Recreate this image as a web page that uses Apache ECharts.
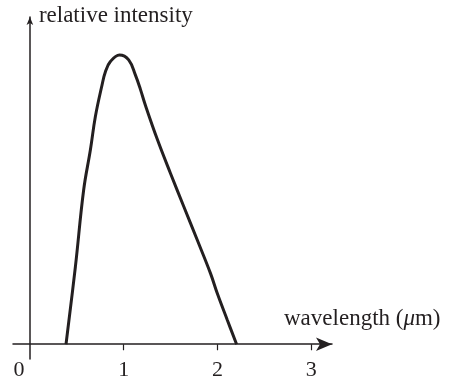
<!DOCTYPE html>
<html>
<head>
<meta charset="utf-8">
<script src="https://cdn.jsdelivr.net/npm/echarts@6/dist/echarts.min.js"></script>
<style>
  html, body { margin: 0; padding: 0; background: #fff; }
  #chart { width: 450px; height: 377px; }
</style>
</head>
<body>
<div id="chart"></div>
<script>
// wavelength (um) and relative intensity
const wavelength = [0.385, 0.485, 0.573, 0.645, 0.698, 0.769, 0.805, 0.858, 0.955,
  1.053, 1.125, 1.179, 1.232, 1.356, 1.498, 1.64, 1.783, 1.925, 1.997, 2.104, 2.203];
const intensity = [0, 0.268, 0.533, 0.672, 0.787, 0.896, 0.942, 0.977, 1.0,
  0.983, 0.93, 0.88, 0.825, 0.71, 0.591, 0.476, 0.361, 0.245, 0.176, 0.084, 0];
const xTicks = [1, 2, 3];
const xLabels = [0, 1, 2, 3];

const ink = "#231f20";
const font = "Liberation Serif";

const chart = echarts.init(document.getElementById("chart"));

const option = {
  animation: false,
  grid: { left: 13, top: 17, width: 319, height: 342, outerBoundsMode: "none", containLabel: false },
  xAxis: {
    type: "value",
    min: -0.18,
    max: 3.22,
    name: "wavelength ({mu|\u03bc}m)",
    nameLocation: "end",
    nameGap: -48,
    nameTextStyle: {
      fontFamily: font, fontSize: 23, color: ink,
      align: "left", verticalAlign: "bottom", padding: [0, 0, 14, 0],
      rich: { mu: { fontFamily: font, fontSize: 23, color: ink, fontStyle: "italic" } },
    },
    axisLine: {
      onZero: true,
      lineStyle: { color: ink, width: 1.5 },
      symbol: ["none", "arrow"],
      symbolSize: [10, 16],
    },
    axisTick: { show: true, length: 6, lineStyle: { color: ink, width: 1.2 }, customValues: xTicks },
    axisLabel: {
      customValues: xLabels,
      margin: 0,
      fontFamily: font, fontSize: 22, color: ink,
      formatter: (v) => (v === 0 ? "{z|0}" : String(v)),
      rich: { z: { fontFamily: font, fontSize: 22, color: ink, padding: [0, 22, 0, 0] } },
    },
    splitLine: { show: false },
  },
  yAxis: {
    type: "value",
    min: -0.051,
    max: 1.131,
    name: "relative intensity",
    nameLocation: "end",
    nameGap: 1,
    nameTextStyle: {
      fontFamily: font, fontSize: 23, color: ink,
      align: "left", verticalAlign: "middle", padding: [0, 0, 0, 9],
    },
    axisLine: {
      onZero: true,
      lineStyle: { color: ink, width: 1.5 },
      symbol: ["none", "arrow"],
      symbolSize: [5, 8],
    },
    axisTick: { show: false },
    axisLabel: { show: false },
    splitLine: { show: false },
  },
  series: [
    {
      type: "line",
      data: wavelength.map((w, i) => [w, intensity[i]]),
      smooth: 0.4,
      showSymbol: false,
      lineStyle: { color: ink, width: 3 },
    },
  ],
};

chart.setOption(option);
</script>
</body>
</html>
